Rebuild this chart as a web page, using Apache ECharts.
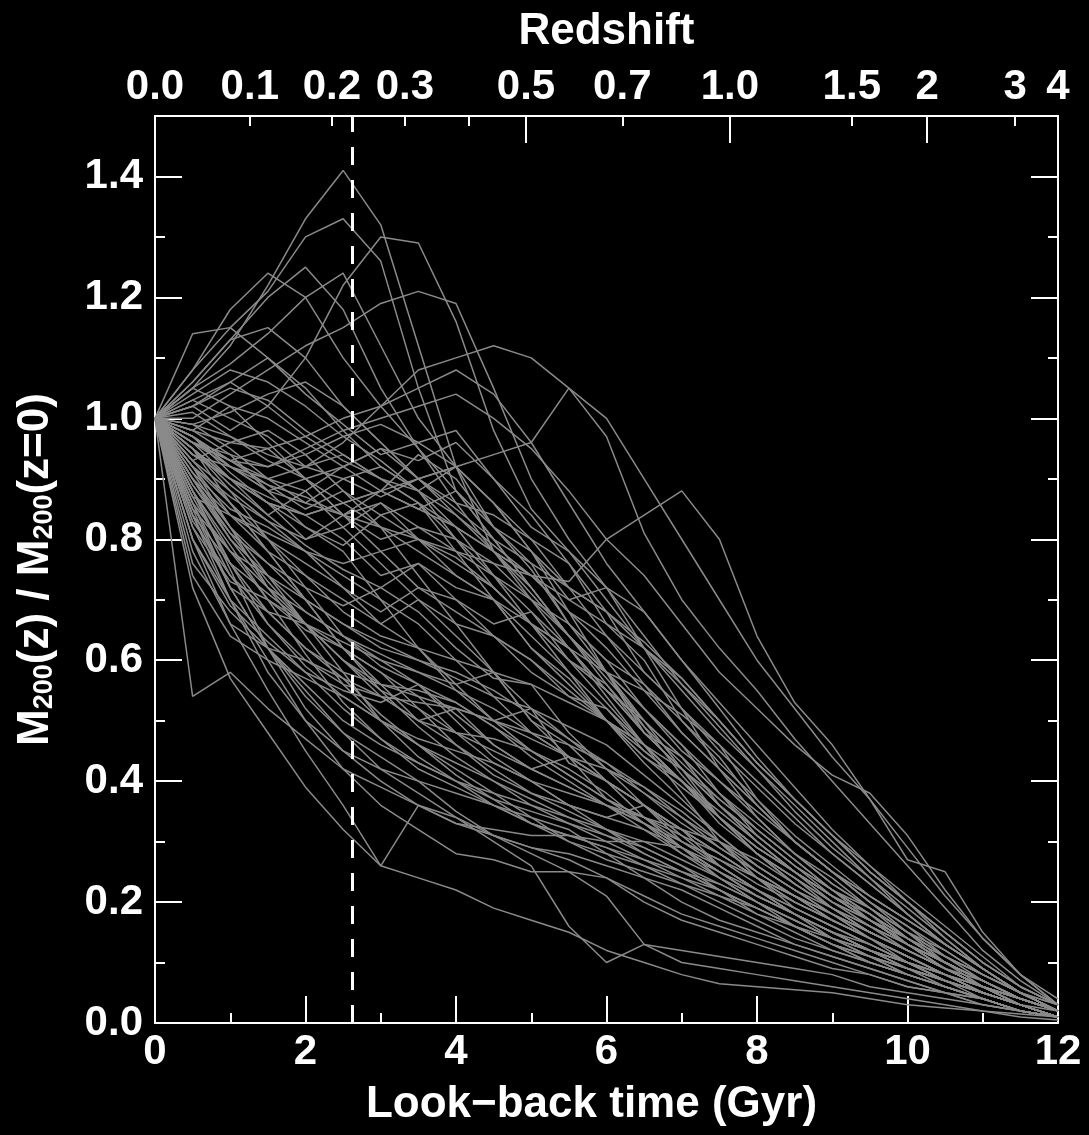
<!DOCTYPE html>
<html>
<head>
<meta charset="utf-8">
<title>Mass accretion histories</title>
<script src="https://cdn.jsdelivr.net/npm/echarts@6/dist/echarts.min.js"></script>
<style>
  html, body { margin: 0; padding: 0; background: #000000; }
  #chart { width: 1089px; height: 1135px; }
</style>
</head>
<body>
<div id="chart"></div>
<script>
  // look-back time of every snapshot (Gyr)
  const lookback = [0, 0.5, 1, 1.5, 2, 2.5, 3, 3.5, 4, 4.5, 5, 5.5, 6, 6.5, 7, 7.5, 8, 8.5, 9, 9.5, 10, 10.5, 11, 11.5, 12];

  // M200(z) / M200(z=0) for each halo, read at the times above
  const histories = [
    [1, 1.05, 1.12, 1.22, 1.33, 1.41, 1.32, 1.12, 0.92, 0.78, 0.70, 0.62, 0.55, 0.48, 0.42, 0.36, 0.31, 0.26, 0.22, 0.17, 0.13, 0.09, 0.06, 0.04, 0.02],
    [1, 1.08, 1.15, 1.21, 1.30, 1.33, 1.26, 1.05, 0.88, 0.80, 0.72, 0.64, 0.58, 0.52, 0.45, 0.40, 0.34, 0.28, 0.24, 0.19, 0.14, 0.10, 0.07, 0.04, 0.02],
    [1, 1.02, 0.98, 1.02, 1.10, 1.22, 1.30, 1.29, 1.16, 0.98, 0.85, 0.78, 0.70, 0.62, 0.55, 0.48, 0.42, 0.35, 0.29, 0.24, 0.18, 0.13, 0.09, 0.05, 0.03],
    [1, 1.06, 1.13, 1.20, 1.25, 1.18, 1.05, 0.95, 0.86, 0.78, 0.71, 0.64, 0.57, 0.50, 0.44, 0.38, 0.33, 0.28, 0.23, 0.19, 0.15, 0.11, 0.07, 0.04, 0.02],
    [1, 1.05, 1.09, 1.14, 1.20, 1.24, 1.12, 1.00, 0.92, 0.82, 0.75, 0.66, 0.58, 0.52, 0.46, 0.40, 0.35, 0.30, 0.25, 0.20, 0.16, 0.11, 0.08, 0.05, 0.02],
    [1, 1.14, 1.15, 1.10, 1.05, 0.98, 0.92, 0.88, 0.80, 0.72, 0.66, 0.60, 0.55, 0.48, 0.42, 0.36, 0.31, 0.26, 0.21, 0.17, 0.13, 0.09, 0.06, 0.04, 0.02],
    [1, 1.06, 1.13, 1.15, 1.10, 1.02, 0.96, 0.90, 0.84, 0.79, 0.74, 0.68, 0.62, 0.55, 0.48, 0.42, 0.36, 0.30, 0.25, 0.20, 0.15, 0.10, 0.07, 0.04, 0.02],
    [1, 1.08, 1.18, 1.24, 1.20, 1.10, 1.02, 0.95, 0.88, 0.80, 0.72, 0.64, 0.56, 0.49, 0.43, 0.37, 0.32, 0.27, 0.22, 0.18, 0.13, 0.09, 0.06, 0.04, 0.02],
    [1, 1.00, 1.04, 1.08, 1.12, 1.15, 1.19, 1.21, 1.19, 1.05, 0.90, 0.80, 0.72, 0.64, 0.56, 0.49, 0.42, 0.36, 0.30, 0.24, 0.19, 0.14, 0.09, 0.05, 0.03],
    [1, 0.96, 0.93, 0.90, 0.92, 0.96, 1.02, 1.08, 1.10, 1.12, 1.10, 1.05, 0.97, 0.81, 0.70, 0.62, 0.55, 0.47, 0.40, 0.33, 0.26, 0.19, 0.12, 0.07, 0.03],
    [1, 0.95, 0.90, 0.86, 0.84, 0.86, 0.88, 0.90, 0.92, 0.94, 0.96, 1.05, 1.00, 0.90, 0.80, 0.70, 0.60, 0.52, 0.44, 0.37, 0.29, 0.21, 0.14, 0.08, 0.03],
    [1, 0.97, 0.92, 0.88, 0.86, 0.84, 0.82, 0.80, 0.78, 0.76, 0.74, 0.73, 0.80, 0.84, 0.88, 0.80, 0.64, 0.53, 0.46, 0.37, 0.27, 0.25, 0.15, 0.08, 0.04],
    [1, 0.96, 0.94, 0.92, 0.95, 0.98, 1.00, 1.02, 1.04, 1.00, 0.95, 0.88, 0.80, 0.74, 0.66, 0.58, 0.52, 0.46, 0.41, 0.38, 0.31, 0.22, 0.14, 0.08, 0.03],
    [1, 0.54, 0.58, 0.52, 0.47, 0.42, 0.39, 0.36, 0.33, 0.31, 0.29, 0.27, 0.24, 0.21, 0.18, 0.16, 0.14, 0.12, 0.10, 0.08, 0.06, 0.05, 0.03, 0.02, 0.01],
    [1, 0.72, 0.57, 0.48, 0.39, 0.32, 0.26, 0.24, 0.22, 0.19, 0.17, 0.15, 0.12, 0.10, 0.08, 0.065, 0.06, 0.055, 0.05, 0.04, 0.03, 0.025, 0.02, 0.01, 0.005],
    [1, 0.80, 0.66, 0.55, 0.45, 0.36, 0.26, 0.36, 0.34, 0.31, 0.28, 0.25, 0.21, 0.13, 0.10, 0.09, 0.08, 0.07, 0.06, 0.05, 0.04, 0.03, 0.02, 0.015, 0.01],
    [1, 0.85, 0.72, 0.62, 0.55, 0.48, 0.42, 0.38, 0.34, 0.30, 0.26, 0.16, 0.10, 0.13, 0.12, 0.11, 0.10, 0.09, 0.08, 0.06, 0.05, 0.04, 0.03, 0.02, 0.01],
    [1, 0.82, 0.70, 0.60, 0.50, 0.42, 0.36, 0.32, 0.28, 0.27, 0.25, 0.25, 0.24, 0.20, 0.17, 0.15, 0.13, 0.11, 0.09, 0.08, 0.06, 0.05, 0.03, 0.02, 0.01],
    [1, 0.88, 0.75, 0.62, 0.52, 0.45, 0.40, 0.36, 0.33, 0.32, 0.31, 0.31, 0.30, 0.30, 0.29, 0.26, 0.22, 0.18, 0.14, 0.11, 0.08, 0.06, 0.04, 0.02, 0.01],
    [1, 0.90, 0.80, 0.72, 0.66, 0.60, 0.55, 0.52, 0.48, 0.45, 0.42, 0.39, 0.36, 0.33, 0.30, 0.27, 0.24, 0.21, 0.18, 0.15, 0.12, 0.09, 0.06, 0.04, 0.02],
    [1, 0.94, 0.90, 0.84, 0.88, 0.82, 0.86, 0.80, 0.74, 0.70, 0.62, 0.57, 0.50, 0.46, 0.40, 0.34, 0.28, 0.24, 0.19, 0.15, 0.12, 0.09, 0.06, 0.04, 0.02],
    [1, 0.97, 0.93, 0.95, 0.90, 0.92, 0.88, 0.94, 0.90, 0.82, 0.76, 0.66, 0.60, 0.52, 0.46, 0.38, 0.32, 0.27, 0.22, 0.18, 0.14, 0.10, 0.07, 0.04, 0.02],
    [1, 0.92, 0.82, 0.76, 0.70, 0.62, 0.56, 0.50, 0.52, 0.46, 0.42, 0.44, 0.37, 0.34, 0.32, 0.30, 0.27, 0.23, 0.19, 0.15, 0.12, 0.09, 0.06, 0.04, 0.02],
    [1, 0.86, 0.74, 0.66, 0.60, 0.56, 0.54, 0.53, 0.52, 0.50, 0.47, 0.44, 0.40, 0.36, 0.31, 0.26, 0.22, 0.18, 0.15, 0.12, 0.10, 0.07, 0.05, 0.03, 0.02],
    [1, 0.98, 1.02, 1.00, 0.96, 0.92, 0.95, 0.90, 0.92, 0.86, 0.80, 0.72, 0.68, 0.58, 0.52, 0.42, 0.34, 0.28, 0.23, 0.19, 0.15, 0.11, 0.08, 0.05, 0.02],
    [1, 0.93, 0.86, 0.80, 0.74, 0.68, 0.64, 0.62, 0.60, 0.58, 0.56, 0.53, 0.50, 0.46, 0.42, 0.37, 0.32, 0.27, 0.22, 0.18, 0.14, 0.10, 0.07, 0.04, 0.02],
    [1, 0.80, 0.70, 0.64, 0.58, 0.55, 0.53, 0.56, 0.50, 0.44, 0.40, 0.36, 0.34, 0.36, 0.30, 0.27, 0.23, 0.20, 0.17, 0.14, 0.10, 0.08, 0.05, 0.03, 0.01],
    [1, 0.95, 0.90, 0.86, 0.84, 0.86, 0.88, 0.85, 0.88, 0.82, 0.78, 0.70, 0.72, 0.62, 0.56, 0.50, 0.43, 0.37, 0.31, 0.25, 0.20, 0.15, 0.10, 0.06, 0.03],
    [1, 0.88, 0.78, 0.70, 0.65, 0.62, 0.58, 0.54, 0.48, 0.43, 0.40, 0.38, 0.36, 0.34, 0.31, 0.28, 0.24, 0.20, 0.17, 0.14, 0.11, 0.08, 0.06, 0.03, 0.01],
    [1, 0.96, 0.92, 0.90, 0.88, 0.92, 0.95, 0.93, 0.96, 0.90, 0.84, 0.76, 0.66, 0.60, 0.50, 0.44, 0.36, 0.30, 0.25, 0.21, 0.17, 0.13, 0.09, 0.05, 0.02],
    [1, 0.84, 0.72, 0.68, 0.66, 0.63, 0.60, 0.58, 0.56, 0.58, 0.50, 0.44, 0.42, 0.39, 0.35, 0.30, 0.25, 0.21, 0.18, 0.15, 0.12, 0.09, 0.07, 0.04, 0.02],
    [1, 0.99, 0.97, 0.94, 0.92, 0.90, 0.87, 0.90, 0.86, 0.84, 0.80, 0.76, 0.68, 0.62, 0.52, 0.46, 0.37, 0.30, 0.25, 0.20, 0.16, 0.12, 0.08, 0.05, 0.02],
    [1, 0.90, 0.84, 0.80, 0.76, 0.72, 0.66, 0.62, 0.55, 0.50, 0.52, 0.43, 0.40, 0.36, 0.32, 0.28, 0.24, 0.21, 0.17, 0.14, 0.11, 0.08, 0.05, 0.03, 0.01],
    [1, 0.93, 0.96, 0.98, 0.94, 0.88, 0.82, 0.78, 0.74, 0.70, 0.66, 0.62, 0.58, 0.55, 0.51, 0.46, 0.40, 0.34, 0.28, 0.23, 0.18, 0.13, 0.09, 0.05, 0.02],
    [1, 0.78, 0.66, 0.62, 0.60, 0.57, 0.54, 0.50, 0.46, 0.42, 0.38, 0.35, 0.32, 0.30, 0.27, 0.24, 0.21, 0.18, 0.15, 0.12, 0.10, 0.07, 0.05, 0.03, 0.01],
    [1, 0.97, 0.91, 0.86, 0.82, 0.79, 0.84, 0.80, 0.76, 0.72, 0.66, 0.62, 0.55, 0.50, 0.42, 0.36, 0.30, 0.25, 0.21, 0.18, 0.14, 0.11, 0.08, 0.05, 0.02],
    [1, 0.92, 0.87, 0.83, 0.78, 0.72, 0.68, 0.72, 0.70, 0.66, 0.68, 0.60, 0.56, 0.48, 0.44, 0.36, 0.30, 0.25, 0.21, 0.17, 0.14, 0.10, 0.07, 0.04, 0.02],
    [1, 0.86, 0.78, 0.72, 0.68, 0.64, 0.60, 0.56, 0.51, 0.46, 0.42, 0.39, 0.36, 0.33, 0.29, 0.25, 0.21, 0.18, 0.15, 0.12, 0.10, 0.07, 0.05, 0.03, 0.01],
    [1, 1.02, 1.05, 1.03, 0.98, 0.94, 0.90, 0.86, 0.82, 0.78, 0.74, 0.70, 0.66, 0.62, 0.57, 0.50, 0.43, 0.37, 0.31, 0.25, 0.20, 0.15, 0.10, 0.06, 0.03],
    [1, 0.94, 0.90, 0.87, 0.84, 0.80, 0.74, 0.76, 0.70, 0.64, 0.60, 0.54, 0.52, 0.45, 0.40, 0.33, 0.28, 0.24, 0.20, 0.17, 0.13, 0.10, 0.07, 0.04, 0.02],
    [1, 0.82, 0.73, 0.70, 0.66, 0.60, 0.54, 0.50, 0.48, 0.47, 0.45, 0.42, 0.38, 0.33, 0.28, 0.24, 0.20, 0.17, 0.14, 0.12, 0.09, 0.07, 0.05, 0.03, 0.01],
    [1, 0.96, 0.93, 0.92, 0.94, 0.97, 0.99, 0.96, 0.98, 0.90, 0.82, 0.78, 0.72, 0.68, 0.60, 0.53, 0.46, 0.39, 0.32, 0.26, 0.20, 0.15, 0.10, 0.06, 0.03],
    [1, 0.89, 0.80, 0.74, 0.68, 0.64, 0.61, 0.58, 0.55, 0.52, 0.48, 0.44, 0.40, 0.36, 0.32, 0.28, 0.24, 0.21, 0.18, 0.15, 0.12, 0.09, 0.06, 0.03, 0.01],
    [1, 0.95, 0.86, 0.78, 0.70, 0.66, 0.63, 0.60, 0.57, 0.54, 0.52, 0.49, 0.46, 0.41, 0.36, 0.31, 0.26, 0.22, 0.19, 0.16, 0.13, 0.10, 0.06, 0.04, 0.02],
    [1, 0.74, 0.64, 0.60, 0.57, 0.54, 0.50, 0.46, 0.43, 0.40, 0.37, 0.34, 0.31, 0.28, 0.25, 0.22, 0.19, 0.16, 0.13, 0.11, 0.09, 0.06, 0.04, 0.02, 0.01],
    [1, 0.98, 0.94, 0.88, 0.90, 0.84, 0.86, 0.82, 0.80, 0.76, 0.70, 0.64, 0.58, 0.50, 0.44, 0.38, 0.31, 0.26, 0.22, 0.19, 0.15, 0.12, 0.08, 0.05, 0.02],
    [1, 0.91, 0.85, 0.82, 0.78, 0.74, 0.70, 0.66, 0.60, 0.54, 0.48, 0.44, 0.40, 0.36, 0.32, 0.28, 0.24, 0.20, 0.17, 0.14, 0.11, 0.08, 0.06, 0.03, 0.01],
    [1, 0.99, 1.01, 1.04, 1.06, 1.02, 0.96, 0.90, 0.85, 0.80, 0.76, 0.72, 0.68, 0.63, 0.57, 0.50, 0.43, 0.37, 0.31, 0.26, 0.21, 0.16, 0.11, 0.06, 0.03],
    [1, 0.88, 0.76, 0.68, 0.62, 0.58, 0.56, 0.55, 0.53, 0.49, 0.45, 0.41, 0.37, 0.33, 0.29, 0.25, 0.21, 0.18, 0.15, 0.13, 0.10, 0.08, 0.05, 0.03, 0.01],
    [1, 0.93, 0.88, 0.83, 0.80, 0.84, 0.80, 0.82, 0.78, 0.74, 0.70, 0.66, 0.60, 0.56, 0.50, 0.43, 0.37, 0.31, 0.26, 0.21, 0.17, 0.13, 0.09, 0.05, 0.02],
    [1, 0.84, 0.76, 0.71, 0.66, 0.62, 0.58, 0.52, 0.46, 0.41, 0.38, 0.36, 0.34, 0.32, 0.29, 0.25, 0.21, 0.18, 0.15, 0.12, 0.10, 0.07, 0.05, 0.03, 0.01],
    [1, 1.03, 1.00, 0.97, 0.92, 0.94, 0.90, 0.88, 0.92, 0.86, 0.78, 0.72, 0.64, 0.56, 0.48, 0.42, 0.36, 0.30, 0.25, 0.21, 0.17, 0.13, 0.09, 0.05, 0.02],
    [1, 0.90, 0.81, 0.73, 0.66, 0.60, 0.56, 0.54, 0.52, 0.50, 0.48, 0.46, 0.43, 0.39, 0.34, 0.29, 0.25, 0.21, 0.17, 0.14, 0.11, 0.08, 0.06, 0.03, 0.01],
    [1, 0.97, 0.92, 0.89, 0.87, 0.84, 0.88, 0.85, 0.82, 0.78, 0.74, 0.68, 0.64, 0.58, 0.52, 0.45, 0.39, 0.33, 0.28, 0.23, 0.18, 0.13, 0.09, 0.05, 0.02],
    [1, 0.76, 0.68, 0.62, 0.56, 0.50, 0.46, 0.43, 0.40, 0.38, 0.36, 0.34, 0.32, 0.29, 0.26, 0.23, 0.20, 0.17, 0.14, 0.12, 0.09, 0.07, 0.04, 0.02, 0.01],
    [1, 0.95, 0.89, 0.84, 0.79, 0.75, 0.72, 0.76, 0.72, 0.70, 0.64, 0.58, 0.52, 0.46, 0.40, 0.34, 0.28, 0.24, 0.20, 0.17, 0.13, 0.10, 0.07, 0.04, 0.02],
    [1, 0.87, 0.84, 0.81, 0.78, 0.76, 0.78, 0.80, 0.77, 0.72, 0.66, 0.60, 0.53, 0.46, 0.40, 0.34, 0.29, 0.25, 0.21, 0.17, 0.14, 0.10, 0.07, 0.04, 0.02],
    [1, 0.98, 0.96, 0.95, 0.97, 1.00, 1.02, 1.05, 1.08, 1.04, 0.96, 0.86, 0.76, 0.68, 0.60, 0.52, 0.44, 0.37, 0.31, 0.25, 0.20, 0.14, 0.09, 0.05, 0.02],
    [1, 0.92, 0.84, 0.78, 0.74, 0.70, 0.66, 0.70, 0.66, 0.64, 0.58, 0.54, 0.50, 0.44, 0.40, 0.34, 0.29, 0.25, 0.21, 0.17, 0.13, 0.10, 0.07, 0.04, 0.02],
    [1, 0.85, 0.78, 0.74, 0.70, 0.66, 0.62, 0.60, 0.58, 0.55, 0.51, 0.47, 0.43, 0.38, 0.33, 0.29, 0.25, 0.21, 0.18, 0.14, 0.11, 0.08, 0.05, 0.03, 0.01],
    [1, 1.04, 1.08, 1.06, 1.02, 0.97, 0.93, 0.88, 0.82, 0.74, 0.66, 0.58, 0.50, 0.43, 0.37, 0.31, 0.26, 0.22, 0.18, 0.15, 0.12, 0.09, 0.06, 0.03, 0.01],
    [1, 1.02, 1.06, 1.10, 1.04, 0.99, 0.94, 0.96, 0.92, 0.86, 0.78, 0.68, 0.58, 0.49, 0.41, 0.34, 0.28, 0.23, 0.19, 0.15, 0.12, 0.09, 0.06, 0.04, 0.02],
    [1, 0.86, 0.72, 0.62, 0.54, 0.48, 0.44, 0.40, 0.35, 0.31, 0.29, 0.28, 0.26, 0.24, 0.22, 0.19, 0.16, 0.13, 0.11, 0.09, 0.07, 0.05, 0.04, 0.02, 0.01],
    [1, 0.90, 0.82, 0.74, 0.66, 0.58, 0.50, 0.44, 0.40, 0.36, 0.33, 0.31, 0.29, 0.27, 0.25, 0.23, 0.20, 0.17, 0.14, 0.11, 0.08, 0.06, 0.04, 0.02, 0.01],
    [1, 0.92, 0.86, 0.78, 0.70, 0.62, 0.55, 0.49, 0.44, 0.40, 0.36, 0.33, 0.31, 0.29, 0.26, 0.22, 0.18, 0.15, 0.12, 0.10, 0.08, 0.06, 0.04, 0.02, 0.01],
    [1, 0.84, 0.70, 0.58, 0.50, 0.45, 0.42, 0.40, 0.38, 0.36, 0.34, 0.32, 0.28, 0.24, 0.20, 0.17, 0.15, 0.13, 0.11, 0.09, 0.07, 0.05, 0.04, 0.02, 0.01],
    [1, 0.96, 0.90, 0.86, 0.80, 0.82, 0.76, 0.70, 0.64, 0.58, 0.50, 0.46, 0.40, 0.34, 0.29, 0.24, 0.20, 0.16, 0.13, 0.11, 0.09, 0.07, 0.05, 0.03, 0.01],
    [1, 0.94, 0.92, 0.88, 0.82, 0.78, 0.70, 0.62, 0.56, 0.50, 0.45, 0.41, 0.37, 0.34, 0.30, 0.26, 0.22, 0.19, 0.16, 0.13, 0.10, 0.08, 0.05, 0.03, 0.01],
    [1, 1.01, 0.97, 0.93, 0.90, 0.86, 0.82, 0.74, 0.66, 0.58, 0.52, 0.47, 0.42, 0.38, 0.34, 0.30, 0.26, 0.22, 0.18, 0.14, 0.11, 0.08, 0.06, 0.03, 0.01],
    [1, 0.88, 0.79, 0.70, 0.61, 0.53, 0.47, 0.43, 0.40, 0.37, 0.35, 0.33, 0.30, 0.27, 0.24, 0.21, 0.18, 0.16, 0.14, 0.12, 0.09, 0.07, 0.05, 0.03, 0.01],
    [1, 0.97, 0.93, 0.89, 0.85, 0.88, 0.84, 0.86, 0.80, 0.74, 0.68, 0.62, 0.54, 0.46, 0.38, 0.30, 0.24, 0.19, 0.16, 0.13, 0.10, 0.08, 0.05, 0.03, 0.01],
    [1, 0.80, 0.69, 0.63, 0.58, 0.52, 0.47, 0.42, 0.39, 0.36, 0.33, 0.31, 0.29, 0.26, 0.23, 0.20, 0.17, 0.14, 0.12, 0.10, 0.08, 0.06, 0.04, 0.02, 0.01],
    [1, 0.99, 0.95, 0.90, 0.86, 0.90, 0.92, 0.88, 0.84, 0.78, 0.72, 0.64, 0.58, 0.48, 0.42, 0.34, 0.28, 0.23, 0.19, 0.16, 0.12, 0.09, 0.06, 0.04, 0.02],
    [1, 0.91, 0.82, 0.72, 0.64, 0.56, 0.50, 0.47, 0.45, 0.43, 0.40, 0.36, 0.32, 0.28, 0.25, 0.22, 0.19, 0.16, 0.13, 0.11, 0.09, 0.07, 0.05, 0.03, 0.01],
    [1, 1.05, 1.02, 0.96, 0.90, 0.84, 0.78, 0.72, 0.68, 0.64, 0.60, 0.55, 0.50, 0.44, 0.39, 0.34, 0.29, 0.25, 0.21, 0.17, 0.13, 0.10, 0.07, 0.04, 0.02],
    [1, 0.87, 0.76, 0.66, 0.59, 0.54, 0.50, 0.46, 0.42, 0.38, 0.34, 0.30, 0.27, 0.25, 0.23, 0.21, 0.19, 0.16, 0.13, 0.10, 0.08, 0.06, 0.04, 0.02, 0.01],
    [1, 0.95, 0.88, 0.80, 0.72, 0.64, 0.59, 0.56, 0.53, 0.49, 0.44, 0.40, 0.36, 0.32, 0.28, 0.25, 0.22, 0.19, 0.16, 0.13, 0.10, 0.07, 0.05, 0.03, 0.01],
    [1, 1.03, 1.06, 1.02, 0.97, 0.93, 0.90, 0.86, 0.78, 0.70, 0.62, 0.56, 0.50, 0.45, 0.40, 0.35, 0.30, 0.25, 0.20, 0.16, 0.13, 0.10, 0.07, 0.04, 0.02],
    [1, 0.89, 0.81, 0.76, 0.72, 0.69, 0.72, 0.68, 0.62, 0.57, 0.56, 0.48, 0.42, 0.36, 0.32, 0.26, 0.22, 0.18, 0.15, 0.12, 0.09, 0.07, 0.05, 0.03, 0.01],
    [1, 0.83, 0.74, 0.68, 0.62, 0.57, 0.51, 0.46, 0.41, 0.37, 0.33, 0.30, 0.28, 0.26, 0.24, 0.22, 0.19, 0.16, 0.13, 0.10, 0.08, 0.06, 0.04, 0.02, 0.01]
  ];

  // tick labels
  const timeMajorTicks = [0, 2, 4, 6, 8, 10, 12];
  const timeMinorTicks = [1, 3, 5, 7, 9, 11];
  const massMajorTicks = [0, 0.2, 0.4, 0.6, 0.8, 1.0, 1.2, 1.4];
  const massMinorTicks = [0.1, 0.3, 0.5, 0.7, 0.9, 1.1, 1.3];
  // redshift labels on the top axis and the look-back time where each one sits
  const zLabels = ['0.0', '0.1', '0.2', '0.3', '0.5', '0.7', '1.0', '1.5', '2', '3', '4'];
  const zLabelTimes = [0, 1.26, 2.35, 3.32, 4.93, 6.21, 7.64, 9.26, 10.26, 11.43, 12];
  const zMajorTimes = [4.93, 7.64, 10.26];
  const zMinorTimes = [1.26, 2.35, 3.32, 4.17, 6.21, 9.26, 11.43];
  // dashed marker
  const markTime = 2.62;

  const font = 'Liberation Sans, Arial, Helvetica, sans-serif';
  const white = '#ffffff';
  const lineGray = '#8a8a8a';

  const labelStyle = {
    color: white,
    fontSize: 42,
    fontWeight: 'bold',
    fontFamily: font,
  };
  const titleStyle = Object.assign({}, labelStyle, { fontSize: 44 });
  const axisLineStyle = { show: true, onZero: false, lineStyle: { color: white, width: 2 } };
  const noLine = { show: false, onZero: false };
  const tick = (length, values) => ({
    show: true,
    inside: true,
    length: length,
    customValues: values,
    lineStyle: { color: white, width: 2 },
  });

  const chart = echarts.init(document.getElementById('chart'), null, { renderer: 'canvas' });

  const series = histories.map((h) => ({
    type: 'line',
    xAxisIndex: 0,
    yAxisIndex: 0,
    data: lookback.map((t, j) => [t, h[j]]),
    symbol: 'none',
    silent: true,
    lineStyle: { color: lineGray, width: 1.5 },
    z: 2,
  }));
  series.push({
    type: 'line',
    xAxisIndex: 0,
    yAxisIndex: 0,
    data: [],
    z: 5,
    markLine: {
      symbol: 'none',
      silent: true,
      animation: false,
      label: { show: false },
      lineStyle: { color: white, width: 3, type: [18, 15] },
      data: [{ xAxis: markTime }],
    },
  });

  chart.setOption({
    backgroundColor: '#000000',
    animation: false,
    grid: {
      left: 155,
      right: 31,
      top: 116,
      bottom: 112,
      containLabel: false,
      outerBoundsMode: 'none',
    },
    xAxis: [
      {
        type: 'value',
        position: 'bottom',
        min: 0,
        max: 12,
        axisLine: axisLineStyle,
        axisTick: tick(27, timeMajorTicks),
        splitLine: { show: false },
        axisLabel: Object.assign({ margin: 8, customValues: timeMajorTicks }, labelStyle),
        name: 'Look\u2212back time (Gyr)',
        nameLocation: 'middle',
        nameGap: 60,
        nameTextStyle: Object.assign({ padding: [0, 30, 0, 0] }, titleStyle),
      },
      {
        type: 'value',
        position: 'top',
        min: 0,
        max: 12,
        axisLine: axisLineStyle,
        axisTick: tick(27, zMajorTimes),
        splitLine: { show: false },
        axisLabel: Object.assign({
          margin: 8,
          customValues: zLabelTimes,
          formatter: (v) => zLabels[zLabelTimes.indexOf(v)],
        }, labelStyle),
        name: 'Redshift',
        nameLocation: 'middle',
        nameGap: 62,
        nameTextStyle: titleStyle,
      },
      {
        type: 'value',
        position: 'top',
        min: 0,
        max: 12,
        axisLine: noLine,
        axisTick: tick(10, zMinorTimes),
        splitLine: { show: false },
        axisLabel: { show: false },
      },
      {
        type: 'value',
        position: 'bottom',
        min: 0,
        max: 12,
        axisLine: noLine,
        axisTick: tick(10, timeMinorTicks),
        splitLine: { show: false },
        axisLabel: { show: false },
      },
    ],
    yAxis: [
      {
        type: 'value',
        position: 'left',
        min: 0,
        max: 1.5,
        axisLine: axisLineStyle,
        axisTick: tick(27, massMajorTicks),
        splitLine: { show: false },
        axisLabel: Object.assign({
          margin: 12,
          customValues: massMajorTicks,
          formatter: (v) => v.toFixed(1),
        }, labelStyle),
        name: 'M{s|200}(z) / M{s|200}(z=0)',
        nameLocation: 'middle',
        nameGap: 97,
        nameTextStyle: Object.assign({
          rich: {
            s: {
              color: white,
              fontSize: 27,
              fontWeight: 'bold',
              fontFamily: font,
              verticalAlign: 'bottom',
            },
          },
        }, titleStyle),
      },
      {
        type: 'value',
        position: 'left',
        min: 0,
        max: 1.5,
        axisLine: noLine,
        axisTick: tick(10, massMinorTicks),
        splitLine: { show: false },
        axisLabel: { show: false },
      },
      {
        type: 'value',
        position: 'right',
        min: 0,
        max: 1.5,
        axisLine: axisLineStyle,
        axisTick: tick(27, massMajorTicks),
        splitLine: { show: false },
        axisLabel: { show: false },
      },
      {
        type: 'value',
        position: 'right',
        min: 0,
        max: 1.5,
        axisLine: noLine,
        axisTick: tick(10, massMinorTicks),
        splitLine: { show: false },
        axisLabel: { show: false },
      },
    ],
    series: series,
  });

  window.addEventListener('resize', function () {
    chart && chart.resize();
  });
</script>
</body>
</html>
